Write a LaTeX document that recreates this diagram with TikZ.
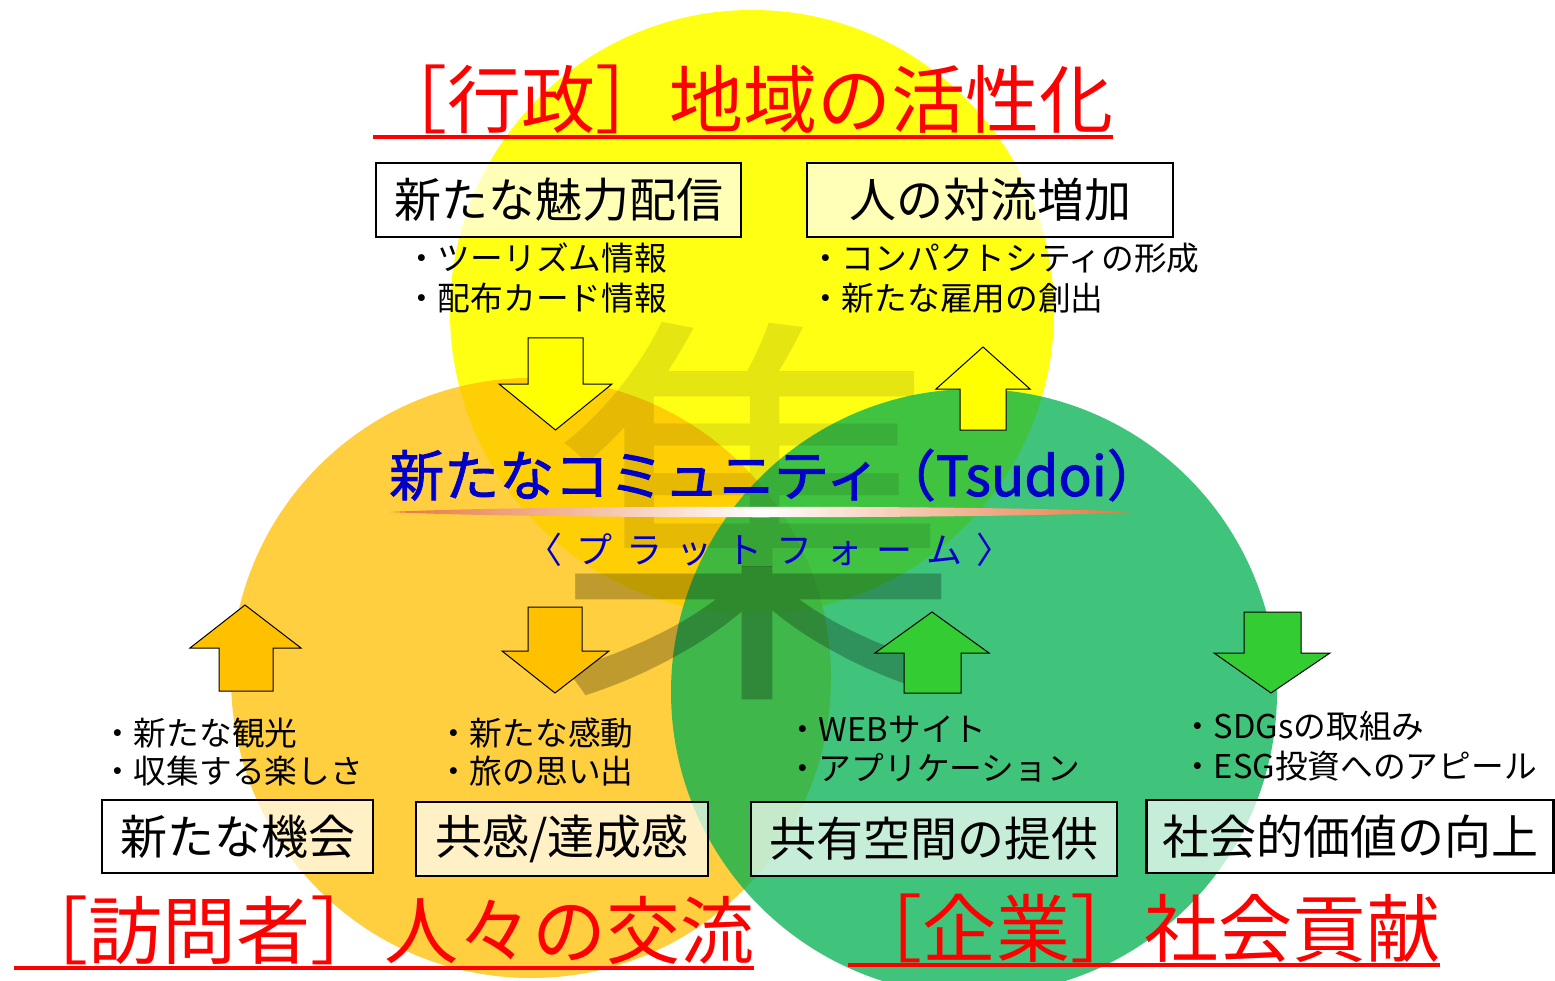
\documentclass[tikz,border=0pt]{standalone}
\usepackage{fontspec}
\setmainfont{Noto Sans CJK JP}
\newfontfamily\cjkmed{Noto Sans CJK JP}[FakeBold=1.6]
\definecolor{cyel}{RGB}{255,255,0}
\definecolor{cora}{RGB}{255,192,0}
\definecolor{cgrn}{RGB}{0,176,80}
\definecolor{aora}{RGB}{255,192,0}
\definecolor{agrn}{RGB}{51,204,51}
\definecolor{tblue}{RGB}{0,0,200}
\definecolor{lensc}{RGB}{232,118,60}
\newcommand\pfch[1]{\makebox[50.1pt]{#1}}
\begin{document}
\begin{tikzpicture}[x=1pt,y=-1pt,
  ttl/.style={font=\fontsize{74}{74}\selectfont, text=red, inner sep=0, anchor=base west},
  uline/.style={red, line width=4pt},
  bul/.style={font=\fontsize{32.7}{32.7}\selectfont, inner sep=0, anchor=base west},
  boxn/.style={draw=black, line width=2.2pt, fill=white, fill opacity=0.7, draw opacity=1, text opacity=1,
    inner sep=0, font=\fontsize{47}{47}\selectfont},
  blk/.style={draw=black, line width=1pt},
  wm/.style={font=\fontsize{410}{410}\selectfont, text=black, inner sep=0}
]
\useasboundingbox (0,0) rectangle (1555,981);
\fill[white] (0,0) rectangle (1555,981);
% circles
\fill[cyel, opacity=0.92] (752,312) circle[radius=302pt];
\fill[cora, opacity=0.75] (531,678) circle[radius=300pt];
\fill[cgrn, opacity=0.75] (974,692) circle[radius=303pt];
% watermark
\begin{scope}
  \clip (0,0) rectangle (1555,566);
  \node[wm, opacity=0.1, text opacity=0.1] (wm1) at (758,511) {集};
\end{scope}
\begin{scope}
  \clip (0,566) rectangle (1555,981);
  \node[wm, opacity=0.25, text opacity=0.25] (wm2) at (758,511) {集};
\end{scope}
% lens
\shade[left color=lensc, right color=lensc, middle color=white]
  (390,512) .. controls (520,505) and (1000,505) .. (1133,512)
  .. controls (1000,519) and (520,519) .. cycle;
% titles
\node[ttl] (t1) at (373,128) {［行政］地域の活性化};
\node[ttl] (t2) at (14,958) {［訪問者］人々の交流};
\node[ttl] (t3) at (848,956) {［企業］社会貢献};
\draw[uline] ([yshift=-9.5pt]t1.base west) -- ([yshift=-9.5pt]t1.base east);
\draw[uline] ([yshift=-9.5pt]t2.base west) -- ([yshift=-9.5pt]t2.base east);
\draw[uline] ([yshift=-9pt]t3.base west) -- ([yshift=-9pt]t3.base east);
% centre texts
\node[inner sep=0, anchor=base west, text=tblue, font=\fontsize{55}{55}\selectfont\cjkmed] (comm) at (389,496) {新たなコミュニティ（Tsudoi）};
\node[inner sep=0, anchor=base, text=tblue, font=\fontsize{36}{36}\selectfont] (plat) at (769.5,563)
  {\pfch{〈}\pfch{プ}\pfch{ラ}\pfch{ッ}\pfch{ト}\pfch{フ}\pfch{ォ}\pfch{ー}\pfch{ム}\pfch{〉}};
% bullets
\node[bul] (a1) at (405,271) {・ツーリズム情報};
\node[bul] (a2) at (405,311) {・配布カード情報};
\node[bul] (c1) at (809,271) {・コンパクトシティの形成};
\node[bul] (c2) at (809,311) {・新たな雇用の創出};
\node[bul] (d1) at (101,745) {・新たな観光};
\node[bul] (d2) at (101,783) {・収集する楽しさ};
\node[bul] (e1) at (437,745) {・新たな感動};
\node[bul] (e2) at (437,783) {・旅の思い出};
\node[bul] (f1) at (786,741) {・WEBサイト};
\node[bul] (f2) at (786,780) {・アプリケーション};
\node[bul] (g1) at (1181,738) {・SDGsの取組み};
\node[bul] (g2) at (1181,778) {・ESG投資へのアピール};
% block arrows
\draw[blk, fill=cyel] (528,338) -- (583,338) -- (583,384) -- (612,384) -- (555.5,430) -- (499,384) -- (528,384) -- cycle;
\draw[blk, fill=cyel] (983,347) -- (1030,389) -- (1006,389) -- (1006,430) -- (960,430) -- (960,389) -- (936,389) -- cycle;
\draw[blk, fill=aora] (245,605) -- (301,648) -- (273,648) -- (273,691) -- (219,691) -- (219,648) -- (190,648) -- cycle;
\draw[blk, fill=aora] (528,607) -- (582,607) -- (582,651) -- (609,651) -- (555,693) -- (502,651) -- (528,651) -- cycle;
\draw[blk, fill=agrn] (932,612) -- (989,653) -- (961,653) -- (961,693) -- (904,693) -- (904,653) -- (875,653) -- cycle;
\draw[blk, fill=agrn] (1244,612) -- (1301,612) -- (1301,653) -- (1330,653) -- (1271,693) -- (1214,653) -- (1244,653) -- cycle;
% boxes
\node[boxn, minimum width=365pt, minimum height=74pt] (b1) at (558.5,200) {新たな魅力配信};
\node[boxn, minimum width=366pt, minimum height=74pt] (b2) at (990,200) {人の対流増加};
\node[boxn, minimum width=271pt, minimum height=73pt] (b3) at (237.5,836.5) {新たな機会};
\node[boxn, minimum width=292pt, minimum height=74pt] (b4) at (562,839) {共感/達成感};
\node[boxn, minimum width=366pt, minimum height=74pt] (b5) at (934,839) {共有空間の提供};
\node[boxn, minimum width=407pt, minimum height=73pt] (b6) at (1350,836.5) {社会的価値の向上};
\end{tikzpicture}
\end{document}
